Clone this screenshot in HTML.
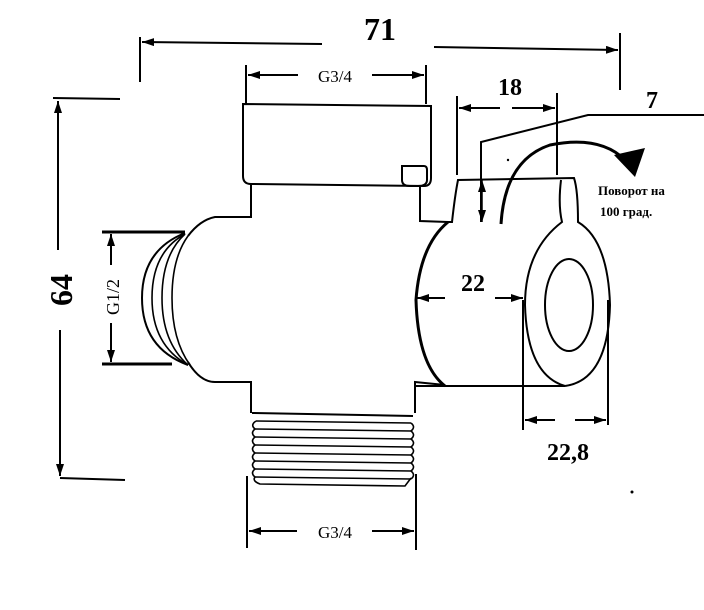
<!DOCTYPE html>
<html><head><meta charset="utf-8"><style>
html,body{margin:0;padding:0;background:#fff}
svg{display:block}
</style></head><body>
<svg width="704" height="610" viewBox="0 0 704 610" xmlns="http://www.w3.org/2000/svg">
<defs>
<marker id="a" viewBox="0 0 12 8" refX="12" refY="4" markerWidth="12" markerHeight="8" orient="auto" markerUnits="userSpaceOnUse"><path d="M0,0 L12,4 L0,8 Z" fill="#000"/></marker>
</defs>
<g fill="none" stroke="#000" stroke-width="2">
<!-- 71 -->
<line x1="140" y1="37" x2="140" y2="82"/>
<line x1="620" y1="33" x2="620" y2="90"/>
<line x1="322" y1="44" x2="142" y2="42" marker-end="url(#a)"/>
<line x1="434" y1="47" x2="618" y2="50" marker-end="url(#a)"/>
<!-- 64 -->
<line x1="53" y1="98" x2="120" y2="99"/>
<line x1="60" y1="478" x2="125" y2="480"/>
<line x1="58" y1="250" x2="58" y2="101" marker-end="url(#a)"/>
<line x1="60" y1="330" x2="60" y2="476" marker-end="url(#a)"/>
<!-- G3/4 top -->
<line x1="246" y1="65" x2="246" y2="104"/>
<line x1="426" y1="65" x2="426" y2="104"/>
<line x1="298" y1="75" x2="248" y2="75" marker-end="url(#a)"/>
<line x1="372" y1="75" x2="424" y2="75" marker-end="url(#a)"/>
<!-- cap -->
<path d="M243,104 L431,106 L431,178 Q431,186 424,186 L251,184 Q243,184 243,176 Z"/>
<path d="M402,166 L424,166 Q427,166 427,170 L427,180 Q427,186 418,186 L410,186 Q402,186 402,180 Z"/>
<!-- neck / body -->
<path d="M251,184 L251,217 L215,217 Q200,220 188,236"/>
<path d="M420,186 L420,221 L448,222"/>
<path d="M188,362 Q200,382 215,382 L251,382 L251,413"/>
<path d="M415,413 L415,382 L445,385"/>
<!-- left thread -->
<path d="M185,233 Q142,250 142,298 Q142,348 188,365"/>
<path d="M185,234 Q152,252 152,298 Q152,345 188,365" stroke-width="1.6"/>
<path d="M185,234 Q162,255 162,298 Q162,342 188,365" stroke-width="1.6"/>
<path d="M188,236 Q172,258 172,298 Q172,340 190,365" stroke-width="1.6"/>
<!-- G1/2 dim -->
<line x1="102" y1="232" x2="185" y2="232" stroke-width="3"/>
<line x1="102" y1="364" x2="172" y2="364" stroke-width="3"/>
<line x1="111" y1="265" x2="111" y2="234" marker-end="url(#a)"/>
<line x1="111" y1="323" x2="111" y2="362" marker-end="url(#a)"/>
<!-- lower thread -->
<path d="M252,413 L413,416"/>
<g stroke-width="1.6">
<path d="M256,421 L411,423"/>
<path d="M256,421 Q250,425 255,429 Q250,433 255,437 Q250,441 255,445 Q250,449 255,453 Q250,457 255,461 Q250,465 255,469 Q250,473 255,477 Q252,481 260,484 L405,486 L411,478"/>
<path d="M411,423 Q416,427 411,431 Q416,435 411,439 Q416,443 411,447 Q416,451 411,455 Q416,459 411,463 Q416,467 411,471 Q416,475 411,479"/>
<path d="M255,429 L411,431 M255,437 L411,439 M255,445 L411,447 M255,453 L411,455 M255,461 L411,463 M255,469 L411,471 M255,477 L411,479"/>
</g>
<!-- G3/4 bottom -->
<line x1="247" y1="476" x2="247" y2="548"/>
<line x1="416" y1="474" x2="416" y2="550"/>
<line x1="297" y1="531" x2="249" y2="531" marker-end="url(#a)"/>
<line x1="372" y1="531" x2="414" y2="531" marker-end="url(#a)"/>
<!-- right body -->
<path d="M448,222 Q420,245 416,300 Q418,365 445,386" stroke-width="3"/>
<line x1="415" y1="386" x2="565" y2="386"/>
<path d="M448,222 L452,222 Q455,195 458,180 L574,178 Q578,190 578,222 Q608,240 610,305 Q608,380 565,386"/>
<path d="M561,180 Q558,205 562,222 Q525,250 525,305 Q527,375 565,386"/>
<ellipse cx="569" cy="305" rx="24" ry="46"/>
<!-- 18 -->
<line x1="457" y1="96" x2="457" y2="175"/>
<line x1="557" y1="93" x2="557" y2="175"/>
<line x1="500" y1="108" x2="459" y2="108" marker-end="url(#a)"/>
<line x1="512" y1="108" x2="555" y2="108" marker-end="url(#a)"/>
<!-- 7 -->
<polyline points="481,222 481,142 588,115 704,115" stroke-width="2"/>
<line x1="482" y1="200" x2="482" y2="180" marker-end="url(#a)" stroke-width="1.5"/>
<line x1="482" y1="200" x2="482" y2="222" marker-end="url(#a)" stroke-width="1.5"/>
<!-- rotation arrow -->
<path d="M501,224 Q505,160 550,145 Q600,135 625,160" stroke-width="3"/>
<!-- 22 -->
<line x1="445" y1="298" x2="417" y2="298" marker-end="url(#a)"/>
<line x1="495" y1="298" x2="523" y2="298" marker-end="url(#a)"/>
<!-- 22,8 -->
<line x1="523" y1="300" x2="523" y2="430"/>
<line x1="608" y1="300" x2="608" y2="425"/>
<line x1="555" y1="420" x2="525" y2="420" marker-end="url(#a)"/>
<line x1="575" y1="420" x2="606" y2="420" marker-end="url(#a)"/>
</g>
<path d="M614,155 L645,148 L635,177 Z" fill="#000"/>
<circle cx="508" cy="160" r="1.2" fill="#000"/>
<circle cx="632" cy="492" r="1.5" fill="#000"/>
<g font-family="'Liberation Serif','DejaVu Serif',serif" fill="#000">
<text x="380" y="40" font-size="32" font-weight="bold" text-anchor="middle">71</text>
<text x="510" y="95" font-size="24" font-weight="bold" text-anchor="middle">18</text>
<text x="652" y="108" font-size="24" font-weight="bold" text-anchor="middle">7</text>
<text x="473" y="291" font-size="24" font-weight="bold" text-anchor="middle">22</text>
<text x="568" y="460" font-size="24" font-weight="bold" text-anchor="middle">22,8</text>
<text x="335" y="82" font-size="17" text-anchor="middle">G3/4</text>
<text x="335" y="538" font-size="17" text-anchor="middle">G3/4</text>
<text transform="translate(119,297) rotate(-90)" font-size="18" text-anchor="middle">G1/2</text>
<text transform="translate(72,290) rotate(-90)" font-size="32" font-weight="bold" text-anchor="middle">64</text>
<text x="598" y="195" font-size="13" font-weight="bold">Поворот  на</text>
<text x="600" y="216" font-size="13" font-weight="bold">100 град.</text>
</g>
</svg>
</body></html>
